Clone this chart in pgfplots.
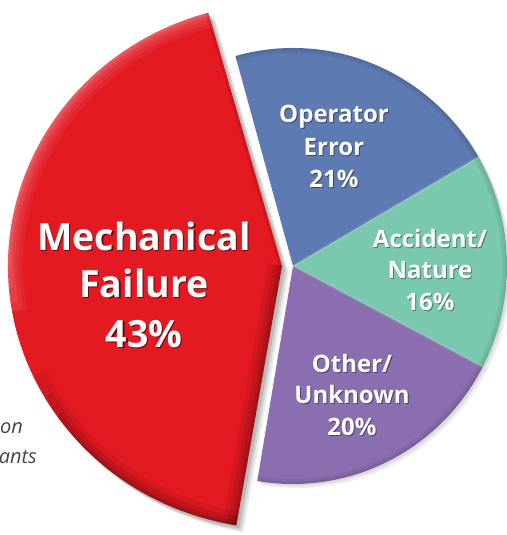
\documentclass[border=0pt]{standalone}
\usepackage{pgfplots}
\pgfplotsset{compat=1.18}
\usepackage{pgfplotstable}
\usepackage{fontspec}
\setmainfont{Open Sans}
\definecolor{cRed}{RGB}{228,26,34}
\definecolor{cBlue}{RGB}{94,122,178}
\definecolor{cGreen}{RGB}{122,200,174}
\definecolor{cPurple}{RGB}{138,110,175}
\definecolor{cText}{RGB}{70,70,70}
\definecolor{sRed}{RGB}{105,10,14}
\definecolor{sBlue}{RGB}{55,72,110}
\definecolor{sGreen}{RGB}{70,125,108}
\definecolor{sPurple}{RGB}{80,62,110}

\pgfplotstableread{
cause value
Mechanical 43
Operator 21
Accident 16
Other 20
}\causes
\pgfplotstablegetelem{0}{value}\of\causes \edef\vMech{\pgfplotsretval}
\pgfplotstablegetelem{1}{value}\of\causes \edef\vOper{\pgfplotsretval}
\pgfplotstablegetelem{2}{value}\of\causes \edef\vAcc{\pgfplotsretval}
\pgfplotstablegetelem{3}{value}\of\causes \edef\vOth{\pgfplotsretval}
\pgfmathsetmacro\aA{105.6}
\pgfmathsetmacro\aB{\aA-3.6*\vOper}
\pgfmathsetmacro\aC{\aB-3.6*\vAcc}
\pgfmathsetmacro\aD{\aC-3.6*\vOth}
\pgfmathsetmacro\aE{\aD-3.6*\vMech}

% #1 cx, #2 cy, #3 rx, #4 ry, #5 start, #6 end, #7 style
\newcommand\slice[7]{%
  \path[#7] (axis cs:#1,#2) -- ++(#5:#3bp and #4bp)
    arc[start angle=#5, end angle=#6, x radius=#3bp, y radius=#4bp] -- cycle;}
% red rim arcs: #1 width, #2 colour, #3 opacity, #4 start, #5 end
\newcommand\redarc[5]{%
  \draw[line width=#1, #2, opacity=#3] (axis cs:282,269) ++(#4:274bp and 263bp)
    arc[start angle=#4, end angle=#5, x radius=274bp, y radius=263bp];}
\newcommand\redline[4]{%
  \draw[line width=#1, #2, opacity=#3] (axis cs:282,269) -- ++(#4:274bp and 263bp);}
% #1 x, #2 y, #3 size, #4 text, #5 shadow offset, #6 shadow colour
\newcommand\lbl[6]{%
  \node[anchor=base, inner sep=0, text=white,
    font=\fontsize{#3}{#3}\selectfont\bfseries] at (axis cs:#1,#2)
    {\rlap{\hspace{#5}\raisebox{-#5}{\textcolor{#6}{#4}}}#4};}

\begin{document}
\begin{tikzpicture}
\begin{axis}[x=1bp, y=1bp, xmin=0, xmax=507, ymin=0, ymax=535,
  hide axis, clip=false]
% shadows
\slice{297}{265}{214}{218}{\aA}{\aD}{fill=black, opacity=0.07}
\slice{295}{267}{214}{218}{\aA}{\aD}{fill=black, opacity=0.08}
\slice{289}{262}{274}{263}{\aD}{\aE}{fill=black, opacity=0.08}
\slice{287}{264}{274}{263}{\aD}{\aE}{fill=black, opacity=0.10}
\slice{285}{266}{274}{263}{\aD}{\aE}{fill=black, opacity=0.12}
% slices
\slice{293}{269}{214}{218}{\aA}{\aB}{fill=cBlue}
\slice{293}{269}{214}{218}{\aB}{\aC}{fill=cGreen}
\slice{293}{269}{214}{218}{\aC}{\aD}{fill=cPurple}
% rims of the round pie
\begin{scope}
\slice{293}{269}{214}{218}{\aA}{\aD}{clip}
\draw[line width=10bp, black, opacity=0.06] (axis cs:293,269) ++(\aA:214bp and 218bp)
  arc[start angle=\aA, end angle=\aD, x radius=214bp, y radius=218bp];
\draw[line width=4bp, black, opacity=0.06] (axis cs:293,269) ++(\aA:214bp and 218bp)
  arc[start angle=\aA, end angle=\aD, x radius=214bp, y radius=218bp];
\draw[line width=3bp, white, opacity=0.10] (axis cs:293,269) -- ++(\aB:214bp and 218bp);
\draw[line width=3bp, white, opacity=0.10] (axis cs:293,269) -- ++(\aC:214bp and 218bp);
\end{scope}
\slice{282}{269}{274}{263}{\aD}{\aE}{fill=cRed}
% red highlight / darker rim
\begin{scope}
\slice{282}{269}{274}{263}{\aD}{\aE}{clip}
\redarc{30bp}{white}{0.05}{102}{190}
\redarc{22bp}{white}{0.06}{102}{190}
\redarc{14bp}{white}{0.07}{102}{188}
\redarc{8bp}{white}{0.08}{102}{185}
\redarc{4bp}{white}{0.08}{102}{180}
\redarc{28bp}{black}{0.07}{205}{262}
\redarc{18bp}{black}{0.08}{210}{262}
\redarc{10bp}{black}{0.09}{215}{262}
\redarc{4bp}{black}{0.10}{220}{262}
\redline{28bp}{black}{0.07}{\aD}
\redline{18bp}{black}{0.08}{\aD}
\redline{10bp}{black}{0.09}{\aD}
\redline{4bp}{black}{0.10}{\aD}
\redline{6bp}{black}{0.10}{\aA}
\end{scope}
% slice labels
\lbl{144}{285}{37.5bp}{Mechanical}{1.3bp}{sRed}
\lbl{144}{238}{37.5bp}{Failure}{1.3bp}{sRed}
\lbl{144}{188}{37.5bp}{43\%}{1.3bp}{sRed}
\lbl{334}{412}{24bp}{Operator}{1bp}{sBlue}
\lbl{334}{380}{24bp}{Error}{1bp}{sBlue}
\lbl{334}{348}{24bp}{21\%}{1bp}{sBlue}
\lbl{430}{288}{24bp}{Accident/}{1bp}{sGreen}
\lbl{430}{257}{24bp}{Nature}{1bp}{sGreen}
\lbl{430}{225}{24bp}{16\%}{1bp}{sGreen}
\lbl{352}{163}{24bp}{Other/}{1bp}{sPurple}
\lbl{352}{132}{24bp}{Unknown}{1bp}{sPurple}
\lbl{352}{100}{24bp}{20\%}{1bp}{sPurple}
% cut-off side note
\node[anchor=base east, inner sep=0, text=cText, font=\fontsize{20bp}{20bp}\selectfont\itshape] at (axis cs:23,102) {on};
\node[anchor=base east, inner sep=0, text=cText, font=\fontsize{20bp}{20bp}\selectfont\itshape] at (axis cs:37,72) {ants};
\end{axis}
\pgfresetboundingbox
\path[use as bounding box] (0,0) rectangle (507bp,535bp);
\end{tikzpicture}
\end{document}
